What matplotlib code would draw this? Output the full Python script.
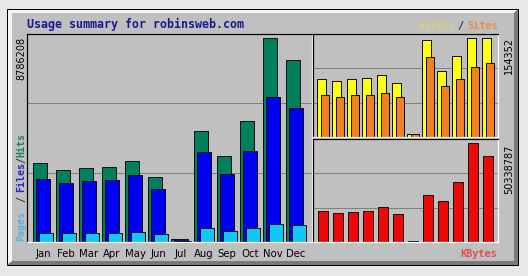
import matplotlib
matplotlib.use('Agg')
import matplotlib.pyplot as plt
import numpy as np
from matplotlib.patches import Rectangle, Polygon

months = ['Jan', 'Feb', 'Mar', 'Apr', 'May', 'Jun', 'Jul', 'Aug', 'Sep', 'Oct', 'Nov', 'Dec']
hits = [3402500, 3101000, 3187000, 3230000, 3488700, 2799500, 150700,
        4780800, 3704000, 5211500, 8786208, 7838700]
files = [2713400, 2541100, 2627300, 2670300, 2885700, 2282700, 107700,
         3876300, 2928800, 3919400, 6245200, 5771400]
pages = [387600, 387600, 387600, 387600, 430700, 344600, 64600,
         603000, 473800, 603000, 775300, 732200]
visits = [90428, 87310, 90428, 91987, 96664, 84192, 4677,
          151234, 102901, 126288, 154352, 153800]
sites = [65482, 62364, 65482, 65482, 68601, 62364, 4677,
         124729, 79515, 90428, 109138, 115374]
kbytes = [15762663, 14745717, 15254190, 15762663, 17796555, 14237244, 300000,
          23898231, 20847393, 30508392, 50338787, 43728676]

W, H = 528, 276
PX = 0.72  # one pixel in points at dpi 100
GREY = '#c0c0c0'

fig = plt.figure(figsize=(W / 100, H / 100), dpi=100, facecolor='#e8e8e8')

# frame drawn in pixel coordinates
bg = fig.add_axes([0, 0, 1, 1], zorder=-1)
bg.set_xlim(0, W)
bg.set_ylim(H, 0)
bg.axis('off')
bg.add_patch(Rectangle((7, 9), 511, 256, fc='#f4f4f4', ec='black', lw=PX))
bg.add_patch(Polygon([(518, 9), (518, 265), (7, 265), (12, 261), (514, 261), (514, 13)],
                     closed=True, fc='#7a7a7a', ec='none'))
bg.add_patch(Rectangle((12, 13), 502, 248, fc=GREY, ec='none'))


def panel(x0, y0, x1, y1):
    ax = fig.add_axes([x0 / W, 1 - y1 / H, (x1 - x0) / W, (y1 - y0) / H])
    ax.set_facecolor(GREY)
    for s in ['top', 'left']:
        ax.spines[s].set_color('black')
    for s in ['bottom', 'right']:
        ax.spines[s].set_color('white')
    for s in ax.spines.values():
        s.set_linewidth(1.2 * PX)
    ax.set_xticks([])
    ax.set_yticks([])
    ax.set_xlim(0, x1 - x0)
    return ax


def gridlines(ax, top):
    for f in (1 / 3, 2 / 3):
        ax.axhline(top * f, color='#808080', lw=PX, zorder=0)


idx = np.arange(12)
edge = dict(edgecolor='#101010', linewidth=PX, align='edge', zorder=2)

# main panel: hits / files / pages
ax = panel(27, 34, 312, 242)
top = max(hits) * 208 / 204
ax.set_ylim(0, top)
gridlines(ax, top)
xs = 6 + 23 * idx
ax.bar(xs, hits, width=14, color='#00805c', **edge)
ax.bar(xs + 3, files, width=14, color='#0000f0', **edge)
ax.bar(xs + 6, pages, width=14, color='#10c8f8', **edge)

# visits / sites
ax2 = panel(313, 34, 498, 137)
top2 = max(visits) * 103 / 99
ax2.set_ylim(0, top2)
gridlines(ax2, top2)
xs2 = 4 + 15 * idx
ax2.bar(xs2, visits, width=9, color='#ffff10', **edge)
ax2.bar(xs2 + 4, sites, width=8, color='#f08020', **edge)

# kbytes
ax3 = panel(313, 139, 498, 242)
top3 = max(kbytes) * 103 / 99
ax3.set_ylim(0, top3)
gridlines(ax3, top3)
ax3.bar(5 + 15 * idx, kbytes, width=10, color='#ee0808', **edge)

# texts
mono = 'DejaVu Sans Mono'
bg.text(27, 24, 'Usage summary for robinsweb.com', family=mono, weight='bold',
        fontsize=8.4, color='#1a1a90', va='center', ha='left')
bg.text(45, 69, '2005', family='Liberation Sans', fontsize=19, color='black',
        va='baseline', ha='left')
bg.text(122, 149, 'July Broken', family='Liberation Sans', fontsize=8.8,
        color='black', va='baseline', ha='left')

for i, m in enumerate(months):
    bg.text(27 + xs[i] + 10, 254, m, family='DejaVu Sans', fontsize=7.3,
            color='black', ha='center', va='center')

lab = dict(family=mono, weight='bold', fontsize=7.2, rotation=90,
           ha='center', va='center')
bg.text(21, 226, 'Pages', color='#60b0d8', **lab)
bg.text(21, 199, '/', color='#303050', **lab)
bg.text(21, 177, 'Files', color='#2828c0', **lab)
bg.text(21, 160, '/', color='#303050', **lab)
bg.text(21, 145, 'Hits', color='#208060', **lab)

num = dict(family='DejaVu Sans', fontsize=7, rotation=90, ha='center', va='top',
           color='black')
bg.text(21, 37, str(max(hits)), **num)
bg.text(509, 37, str(max(visits)), **num)
bg.text(509, 145, str(max(kbytes)), **num)

leg = dict(family=mono, weight='bold', fontsize=7.4, va='center')
bg.text(455, 26, 'Visits', color='#d8d070', ha='right', **leg)
bg.text(460, 26, '/', color='#303050', ha='center', **leg)
bg.text(467, 26, 'Sites', color='#e09050', ha='left', **leg)
bg.text(497, 254, 'KBytes', color='#e05050', ha='right', **leg)

fig.savefig('out.png', dpi=100, facecolor=fig.get_facecolor())
